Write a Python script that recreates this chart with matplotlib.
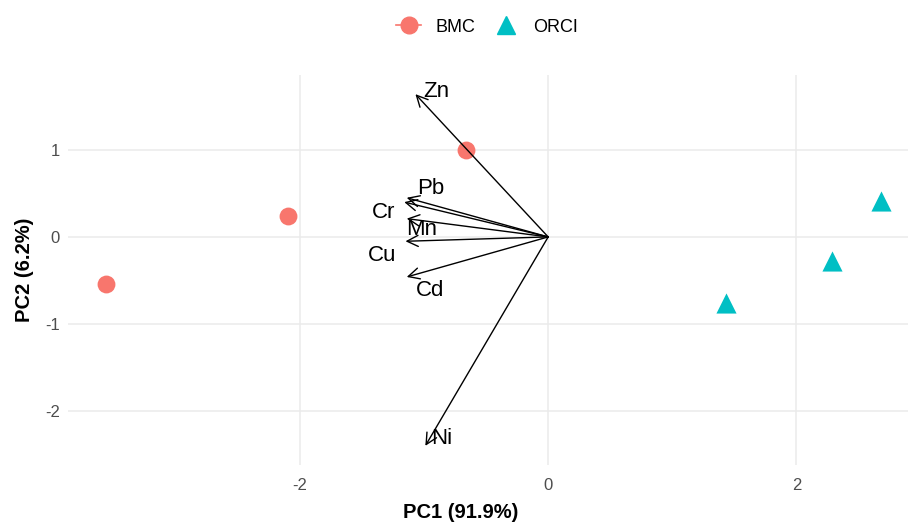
import matplotlib.pyplot as plt
from matplotlib.lines import Line2D

plt.rcParams['font.family'] = ['Liberation Sans', 'DejaVu Sans']
plt.rcParams['axes.unicode_minus'] = False

# scores
bmc_pc1 = [-3.56, -2.10, -0.66]
bmc_pc2 = [-0.54, 0.24, 1.00]
orci_pc1 = [1.43, 2.29, 2.68]
orci_pc2 = [-0.76, -0.28, 0.41]

# loadings (scaled arrows) and label positions
variables = ['Zn', 'Pb', 'Cr', 'Mn', 'Cu', 'Cd', 'Ni']
load_pc1 = [-1.07, -1.14, -1.16, -1.14, -1.15, -1.14, -0.99]
load_pc2 = [1.64, 0.45, 0.40, 0.21, -0.05, -0.46, -2.40]
lab_pc1 = [-0.90, -0.95, -1.33, -1.02, -1.34, -0.95, -0.86]
lab_pc2 = [1.67, 0.56, 0.28, 0.09, -0.21, -0.61, -2.31]

red = '#F8766D'
teal = '#00BFC4'

fig = plt.figure(figsize=(9.08, 5.22), dpi=100)
ax = fig.add_axes([68 / 908, 57 / 522, 840 / 908, 390 / 522])

ax.set_xlim(-3.87, 2.90)
ax.set_ylim(-2.62, 1.86)
ax.set_xticks([-2, 0, 2])
ax.set_yticks([-2, -1, 0, 1])
ax.grid(True, color='#EBEBEB', linewidth=1.1)
ax.set_axisbelow(True)
for s in ax.spines.values():
    s.set_visible(False)
ax.tick_params(length=0, labelsize=12, labelcolor='#4D4D4D')
ax.tick_params(axis='x', pad=9)
ax.tick_params(axis='y', pad=6)

ax.scatter(bmc_pc1, bmc_pc2, s=165, color=red, marker='o', zorder=3, linewidths=0)
ax.scatter(orci_pc1, orci_pc2, s=210, color=teal, marker='^', zorder=3, linewidths=0)

for v, x, y, lx, ly in zip(variables, load_pc1, load_pc2, lab_pc1, lab_pc2):
    ax.annotate('', xy=(x, y), xytext=(0, 0),
                arrowprops=dict(arrowstyle='->', color='black', lw=1.0,
                                shrinkA=0, shrinkB=0, mutation_scale=20))
    ax.text(lx, ly, v, fontsize=16, ha='center', va='center', color='black')

fig.text(461 / 908, 10 / 522, 'PC1 (91.9%)', fontsize=14.5, fontweight='bold',
         ha='center', va='center')
fig.text(25 / 908, 1 - 270 / 522, 'PC2 (6.2%)', fontsize=14.5, fontweight='bold',
         ha='center', va='center', rotation=90)

handles = [
    Line2D([0], [0], color=red, marker='o', markersize=12, linestyle='-', lw=1.2),
    Line2D([0], [0], color=teal, marker='^', markersize=13, linestyle='none'),
]
fig.legend(handles, ['BMC', 'ORCI'], loc='center', bbox_to_anchor=(487 / 908, 1 - 27 / 522),
           ncol=2, frameon=False, fontsize=13, handlelength=1.4, columnspacing=1.0,
           handletextpad=0.8)

fig.savefig('out.png', dpi=100)
